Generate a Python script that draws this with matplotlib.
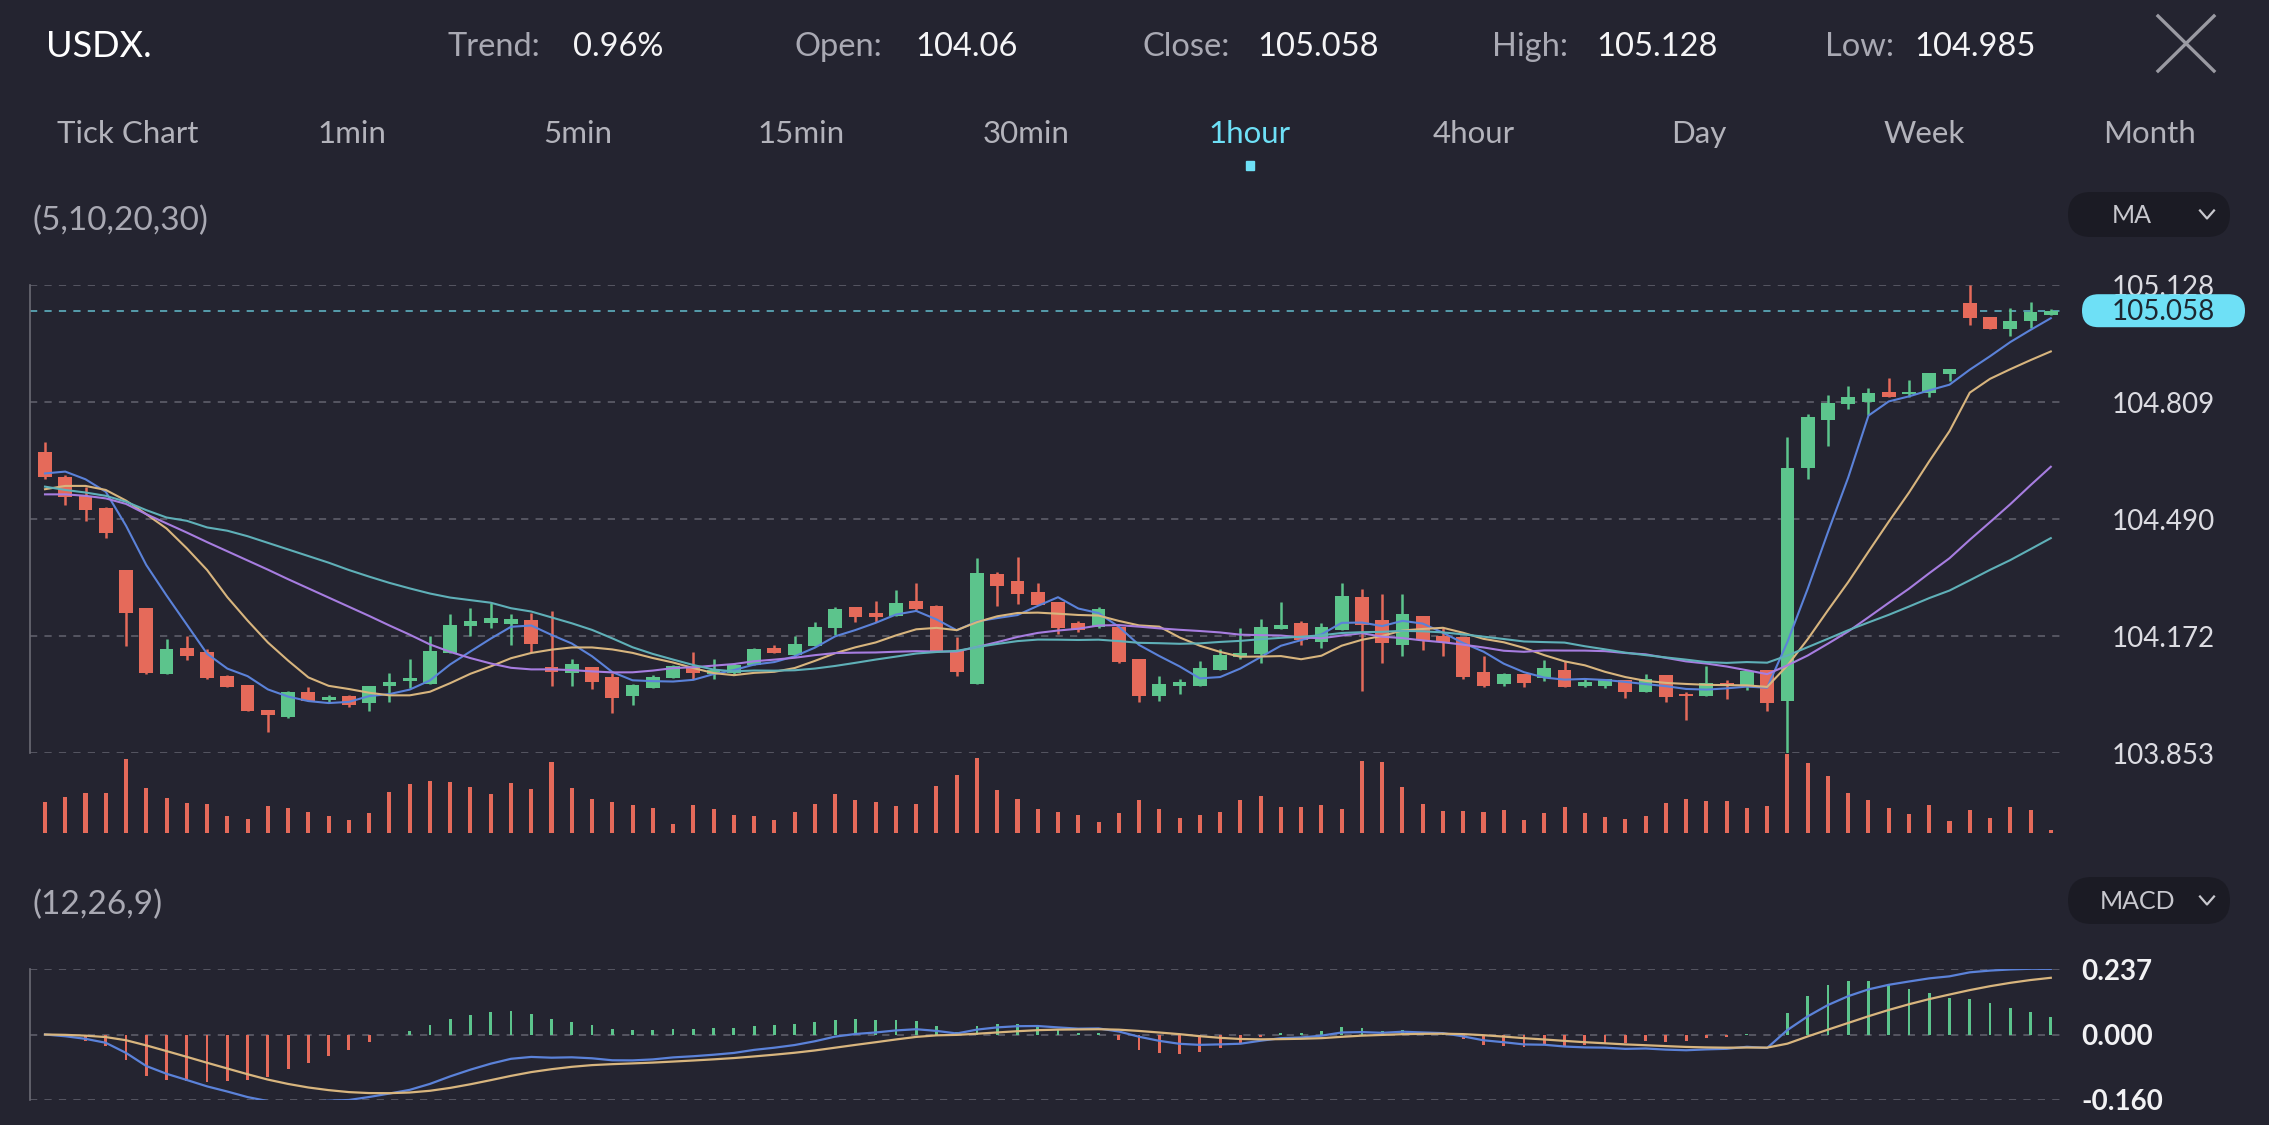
import matplotlib
matplotlib.use('Agg')
import matplotlib.pyplot as plt
from matplotlib.patches import FancyBboxPatch, Rectangle
from matplotlib.lines import Line2D
import numpy as np
import pandas as pd

plt.rcParams['font.family'] = ['Lato', 'DejaVu Sans']

# --- data (1 hour candles, USDX) ---
opens = [104.674, 104.606, 104.553, 104.520, 104.352, 104.248, 104.069, 104.141, 104.130, 104.064,
         104.039, 103.971, 103.953, 104.019, 103.998, 104.009, 103.991, 104.036, 104.051, 104.043,
         104.125, 104.200, 104.207, 104.205, 104.216, 104.089, 104.072, 104.089, 104.061, 104.009,
         104.032, 104.057, 104.087, 104.069, 104.072, 104.093, 104.141, 104.120, 104.145, 104.195,
         104.250, 104.234, 104.227, 104.267, 104.255, 104.131, 104.042, 104.340, 104.323, 104.293,
         104.266, 104.207, 104.196, 104.198, 104.109, 104.009, 104.037, 104.037, 104.080, 104.116,
         104.123, 104.191, 104.209, 104.157, 104.190, 104.278, 104.216, 104.148, 104.227, 104.172,
         104.169, 104.073, 104.043, 104.068, 104.057, 104.080, 104.036, 104.037, 104.052, 104.021,
         104.065, 104.015, 104.010, 104.045, 104.038, 104.080, 103.996, 104.629, 104.761, 104.804,
         104.810, 104.837, 104.830, 104.834, 104.887, 105.078, 105.040, 105.008, 105.030, 105.045]
highs = [104.701, 104.610, 104.579, 104.524, 104.352, 104.248, 104.163, 104.172, 104.136, 104.066,
         104.039, 103.971, 104.023, 104.033, 104.012, 104.012, 104.036, 104.071, 104.111, 104.172,
         104.232, 104.248, 104.261, 104.232, 104.236, 104.240, 104.111, 104.089, 104.071, 104.043,
         104.066, 104.094, 104.128, 104.109, 104.098, 104.139, 104.148, 104.172, 104.211, 104.252,
         104.250, 104.268, 104.297, 104.318, 104.258, 104.169, 104.384, 104.347, 104.388, 104.318,
         104.266, 104.213, 104.250, 104.198, 104.109, 104.064, 104.054, 104.105, 104.136, 104.193,
         104.218, 104.266, 104.214, 104.207, 104.316, 104.299, 104.288, 104.288, 104.227, 104.193,
         104.169, 104.118, 104.072, 104.068, 104.107, 104.105, 104.054, 104.054, 104.052, 104.068,
         104.065, 104.020, 104.092, 104.052, 104.080, 104.080, 104.713, 104.778, 104.829, 104.854,
         104.847, 104.874, 104.869, 104.889, 104.899, 105.128, 105.040, 105.065, 105.083, 105.062]
lows = [104.600, 104.529, 104.486, 104.438, 104.145, 104.068, 104.069, 104.107, 104.054, 104.033,
        103.968, 103.912, 103.948, 103.996, 103.989, 103.978, 103.968, 103.994, 104.030, 104.043,
        104.125, 104.172, 104.193, 104.148, 104.130, 104.037, 104.037, 104.027, 103.962, 103.984,
        104.032, 104.057, 104.054, 104.054, 104.066, 104.093, 104.125, 104.116, 104.145, 104.175,
        104.211, 104.211, 104.227, 104.243, 104.132, 104.063, 104.042, 104.254, 104.259, 104.257,
        104.179, 104.184, 104.193, 104.100, 103.993, 103.995, 104.014, 104.037, 104.080, 104.110,
        104.100, 104.191, 104.148, 104.139, 104.190, 104.023, 104.098, 104.118, 104.134, 104.118,
        104.054, 104.033, 104.037, 104.033, 104.051, 104.034, 104.033, 104.030, 104.003, 104.021,
        103.993, 103.943, 104.010, 104.000, 104.025, 103.969, 103.853, 104.601, 104.689, 104.791,
        104.773, 104.822, 104.822, 104.822, 104.867, 105.020, 105.007, 104.988, 105.010, 105.045]
closes = [104.606, 104.552, 104.515, 104.454, 104.236, 104.071, 104.137, 104.119, 104.057, 104.034,
          103.968, 103.957, 104.021, 103.996, 104.007, 103.984, 104.036, 104.048, 104.057, 104.132,
          104.202, 104.213, 104.222, 104.218, 104.150, 104.074, 104.096, 104.048, 104.003, 104.038,
          104.062, 104.091, 104.071, 104.081, 104.093, 104.137, 104.125, 104.150, 104.198, 104.247,
          104.223, 104.223, 104.263, 104.247, 104.132, 104.075, 104.343, 104.309, 104.288, 104.257,
          104.193, 104.189, 104.247, 104.102, 104.009, 104.042, 104.048, 104.084, 104.120, 104.125,
          104.198, 104.202, 104.161, 104.198, 104.282, 104.202, 104.154, 104.232, 104.161, 104.157,
          104.062, 104.037, 104.068, 104.045, 104.084, 104.034, 104.046, 104.054, 104.019, 104.054,
          104.006, 104.008, 104.045, 104.036, 104.078, 103.991, 104.631, 104.768, 104.807, 104.822,
          104.834, 104.824, 104.837, 104.889, 104.899, 105.038, 105.007, 105.030, 105.055, 105.058]
volumes = [95, 110, 122, 120, 222, 135, 105, 92, 88, 52, 44, 82, 75, 63, 52, 40, 60, 125, 147, 157,
           155, 140, 118, 150, 133, 215, 135, 102, 93, 84, 77, 28, 85, 72, 54, 51, 40, 65, 87, 117,
           100, 95, 82, 88, 143, 175, 225, 130, 102, 72, 63, 54, 35, 60, 99, 72, 45, 54, 64, 100,
           112, 80, 78, 85, 72, 217, 213, 140, 88, 67, 67, 65, 70, 40, 60, 80, 60, 48, 42, 52,
           91, 104, 98, 98, 76, 82, 238, 211, 172, 121, 99, 76, 58, 85, 36, 69, 47, 80, 71, 9]

# MA values for the first bars (history before the window)
ma5_head = [104.615, 104.620, 104.599, 104.565]
ma10_head = [104.572, 104.581, 104.581, 104.570, 104.541, 104.504, 104.465, 104.411, 104.352]
ma20_head = [104.558, 104.558, 104.554, 104.547, 104.532, 104.504, 104.479, 104.454, 104.428, 104.403,
             104.378, 104.353, 104.327, 104.302, 104.277, 104.252, 104.227, 104.201, 104.176]
ma30_head = [104.579, 104.570, 104.563, 104.554, 104.538, 104.515, 104.495, 104.486, 104.468, 104.459,
             104.444, 104.426, 104.408, 104.390, 104.372, 104.352, 104.334, 104.317, 104.302, 104.288,
             104.277, 104.270, 104.263, 104.248, 104.239, 104.223, 104.207, 104.189, 104.166]

price_ticks = [103.853, 104.172, 104.490, 104.809, 105.128]
macd_ticks = [-0.160, 0.000, 0.237]
header_items = [('Trend:', '0.96%'), ('Open:', '104.06'), ('Close:', '105.058'),
                ('High:', '105.128'), ('Low:', '104.985')]
tabs = ['Tick Chart', '1min', '5min', '15min', '30min', '1hour', '4hour', 'Day', 'Week', 'Month']
active_tab = '1hour'

# --- colours ---
BG = '#242430'
UP = '#5cc48c'
DOWN = '#e56a5a'
GRID = '#5a5a66'
CYAN = '#6ee0f6'
MA_COLORS = {5: '#5b82d9', 10: '#d8b57e', 20: '#a77de0', 30: '#5fb0b8'}
GREY_TXT = '#a9a9b3'

W, H = 2269, 1125
fig = plt.figure(figsize=(W / 100, H / 100), dpi=100, facecolor=BG)


def px_axes(x0, y0, x1, y1, **kw):
    # place axes by pixel box (top-left origin)
    return fig.add_axes([x0 / W, 1 - y1 / H, (x1 - x0) / W, (y1 - y0) / H], **kw)


x = np.arange(len(closes))
o = np.array(opens); c = np.array(closes); hi = np.array(highs); lo = np.array(lows)
up = c >= o
cols = np.where(up, UP, DOWN)
XLIM = (-0.74, 99.75)

# ---------------- price panel ----------------
ax = px_axes(30, 285, 2066, 753.3)
ax.set_facecolor(BG)
ax.set_xlim(*XLIM)
ax.set_ylim(price_ticks[0], price_ticks[-1])
ax.vlines(x, lo, hi, colors=cols, lw=1.8, zorder=3)
body_bottom = np.minimum(o, c)
body_h = np.maximum(np.abs(c - o), 0.003)
ax.bar(x, body_h, bottom=body_bottom, width=0.68, color=cols, zorder=4)

close_s = pd.Series(closes)
for n, head in [(5, ma5_head), (10, ma10_head), (20, ma20_head), (30, ma30_head)]:
    ma = close_s.rolling(n).mean().to_numpy()
    ma[:n - 1] = head
    ax.plot(x, ma, color=MA_COLORS[n], lw=1.5, zorder=5)

ax.set_yticks(price_ticks)
ax.set_yticklabels([f'{t:.3f}' for t in price_ticks])
ax.yaxis.tick_right()
ax.tick_params(axis='y', length=0, pad=70, labelsize=20, colors='#dcdce2')
for lab in ax.get_yticklabels():
    lab.set_horizontalalignment('center')
ax.set_xticks([])
ax.yaxis.grid(True, color=GRID, lw=1.3, linestyle=(0, (4, 4)))
ax.axhline(closes[-1], color='#5aa6b6', lw=1.3, linestyle=(0, (4, 4)), zorder=2)
for s in ['top', 'right', 'bottom']:
    ax.spines[s].set_visible(False)
ax.spines['left'].set_color('#6a6a74')
ax.spines['left'].set_linewidth(1.2)

# ---------------- volume panel ----------------
axv = px_axes(30, 753.3, 2066, 833.3)
axv.set_facecolor('none')
axv.set_xlim(*XLIM)
axv.set_ylim(0, 240)
axv.bar(x, volumes, width=0.2, color=DOWN)
axv.axis('off')

# ---------------- MACD panel ----------------
dif = close_s.ewm(span=12, adjust=False).mean() - close_s.ewm(span=26, adjust=False).mean()
dea = dif.ewm(span=9, adjust=False).mean()
hist = 2 * (dif - dea)

TOP, BOT = macd_ticks[2], -macd_ticks[0]


def fwd(v):
    v = np.asarray(v, dtype=float)
    return np.where(v >= 0, v / TOP, v / BOT)


def inv(t):
    t = np.asarray(t, dtype=float)
    return np.where(t >= 0, t * TOP, t * BOT)


axm = px_axes(30, 969, 2066, 1100)
axm.set_facecolor(BG)
axm.set_yscale('function', functions=(fwd, inv))
axm.set_xlim(*XLIM)
axm.set_ylim(macd_ticks[0], macd_ticks[2])
hcols = np.where(hist.to_numpy() >= 0, UP, DOWN)
axm.bar(x, hist, width=0.14, color=hcols, zorder=3)
axm.plot(x, dif, color=MA_COLORS[5], lw=1.6, zorder=4)
axm.plot(x, dea, color=MA_COLORS[10], lw=1.6, zorder=4)
axm.set_yticks(macd_ticks)
axm.set_yticklabels([f'{t:.3f}' for t in macd_ticks])
axm.yaxis.tick_right()
axm.yaxis.set_minor_locator(matplotlib.ticker.NullLocator())
axm.tick_params(axis='y', length=0, pad=11, labelsize=20, colors='#f2f2f4')
for lab in axm.get_yticklabels():
    lab.set_fontweight('bold')
axm.set_xticks([])
axm.yaxis.grid(True, color=GRID, lw=1.3, linestyle=(0, (4, 4)))
for s in ['top', 'right', 'bottom']:
    axm.spines[s].set_visible(False)
axm.spines['left'].set_color('#6a6a74')
axm.spines['left'].set_linewidth(1.2)

# ---------------- overlay: header, tabs, pills ----------------
ov = fig.add_axes([0, 0, 1, 1], zorder=10)
ov.set_xlim(0, W)
ov.set_ylim(H, 0)
ov.axis('off')
ov.patch.set_alpha(0)

ov.text(46, 57, 'USDX.', color='white', fontsize=26, va='baseline', ha='left')
label_x = [448, 795, 1143, 1492, 1825]
value_x = [573, 915, 1257, 1596, 1914]
for (lab, val), lx, vx in zip(header_items, label_x, value_x):
    ov.text(lx, 56, lab, color=GREY_TXT, fontsize=23.5, va='baseline', ha='left')
    ov.text(vx, 56, val, color='#f4f4f6', fontsize=23.5, va='baseline', ha='left')

# close icon
ov.add_line(Line2D([2158, 2214], [16, 71], color='#9a9aa2', lw=2.4))
ov.add_line(Line2D([2214, 2158], [16, 71], color='#9a9aa2', lw=2.4))

tab_x = [128, 352, 578, 801, 1026, 1250, 1474, 1699, 1924, 2150]
for t, tx in zip(tabs, tab_x):
    ov.text(tx, 143, t, color=CYAN if t == active_tab else '#b3b3bb', fontsize=22.5,
            va='baseline', ha='center')
ax_i = tabs.index(active_tab)
ov.add_patch(Rectangle((tab_x[ax_i] - 4, 161), 8, 9, color=CYAN))

ov.text(32, 230, '(5,10,20,30)', color=GREY_TXT, fontsize=24, va='baseline', ha='left')
ov.text(32, 914, '(12,26,9)', color=GREY_TXT, fontsize=24, va='baseline', ha='left')

for (y0, y1, name, tx, base) in [(192, 237, 'MA', 2112, 223), (877, 924, 'MACD', 2100, 909)]:
    hgt = y1 - y0
    ov.add_patch(FancyBboxPatch((2068, y0), 162, hgt,
                                boxstyle=f'round,pad=0,rounding_size={hgt / 2}',
                                fc='#1b1b24', ec='none'))
    ov.text(tx, base, name, color='#c8c8ce', fontsize=18, va='baseline', ha='left')
    cy = (y0 + y1) / 2
    ov.add_line(Line2D([2200, 2207, 2214], [cy - 4, cy + 4, cy - 4], color='#c8c8ce', lw=1.6))

# current price pill, tied to the price axis
_, py = ov.transData.inverted().transform(ax.transData.transform((0, closes[-1])))
ov.add_patch(FancyBboxPatch((2082, py - 16.5), 163, 33,
                            boxstyle='round,pad=0,rounding_size=16.5',
                            fc=CYAN, ec='none'))
ov.text(2163, py + 1, f'{closes[-1]:.3f}', color='#1d2630', fontsize=20, va='center', ha='center')

fig.savefig('out.png', dpi=100, facecolor=BG)
